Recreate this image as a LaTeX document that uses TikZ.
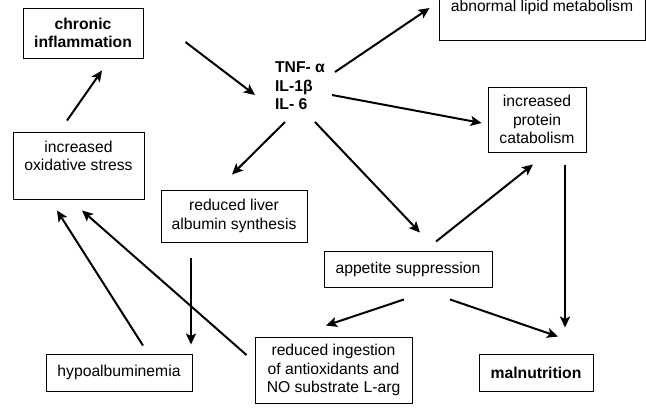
\documentclass[tikz,border=0pt]{standalone}
\usepackage{fontspec}
\setmainfont{Liberation Sans}
\usetikzlibrary{calc,positioning,arrows.meta}

\begin{document}
\begin{tikzpicture}[x=1pt,y=-1pt,
    every node/.style={font=\fontsize{15.7}{18.3}\selectfont},
    box node/.style={draw,line width=0.9pt,inner sep=0pt,align=center},
    bold node/.style={box node,font=\fontsize{15.7}{18.3}\selectfont\bfseries},
    link/.style={line width=2pt,-{Stealth[length=11pt,width=10pt,inset=2.5pt]}}]

  \useasboundingbox (0,0) rectangle (646,408);

  % boxes
  \node[bold node,minimum width=120pt,minimum height=50pt] (chronic) at (83,33) {chronic\\inflammation};
  \node[box node,minimum width=131pt,minimum height=67pt] (oxid) at (78.5,165.5) {};
  \node[inner sep=0pt,align=center,anchor=north] (oxid text) at (78.5,140.5) {increased\\oxidative stress};
  \node[inner sep=0pt,align=left,font=\fontsize{15.7}{18.5}\selectfont\bfseries] (tnf) at (300,86) {TNF- α\\IL-1β\\IL- 6};
  \node[box node,minimum width=206pt,minimum height=49pt] (lipid) at (542,15.5) {};
  \node[inner sep=0pt,anchor=north] (lipid text) at (542,-0.5) {abnormal lipid metabolism};
  \node[box node,minimum width=98pt,minimum height=65pt] (protein) at (537,119.5) {increased\\protein\\catabolism};
  \node[box node,minimum width=146pt,minimum height=52pt] (liver) at (234,216) {reduced liver\\albumin synthesis};
  \node[box node,minimum width=168pt,minimum height=36pt] (appetite) at (408,269) {appetite suppression};
  \node[box node,minimum width=146pt,minimum height=37pt] (hypo) at (119,372.5) {hypoalbuminemia};
  \node[box node,minimum width=157pt,minimum height=66pt] (ingest) at (333.5,370) {reduced ingestion\\of antioxidants and\\NO substrate L-arg};
  \node[bold node,minimum width=114pt,minimum height=37pt] (maln) at (536,372.5) {malnutrition};

  % arrows
  \draw[link] ([shift={(42,9)}]chronic.east) -- ([shift={(-45,9)}]tnf.center);
  \draw[link] ([shift={(-11.5,-11)}]oxid.north) -- ([shift={(19,12)}]chronic.south);
  \draw[link] ([shift={(35,-14)}]tnf.center) -- ([shift={(-9,-7.5)}]lipid.west);
  \draw[link] ([shift={(32,9)}]tnf.center) -- ([shift={(-6,3.5)}]protein.west);
  \draw[link] ([shift={(-15,36)}]tnf.center) -- ([shift={(-2,-15)}]liver.north);
  \draw[link] ([shift={(15,36)}]tnf.center) -- ([shift={(12,-18)}]appetite.north);
  \draw[link] ([shift={(28,-9)}]appetite.north) -- ([shift={(-4,12)}]protein.south);
  \draw[link] ([shift={(28,13)}]protein.south) -- ([shift={(29,-26)}]maln.north);
  \draw[link] ([shift={(42,12)}]appetite.south) -- ([shift={(22,-17)}]maln.north);
  \draw[link] ([shift={(-4,12)}]appetite.south) -- ([shift={(-7.5,-11)}]ingest.north);
  \draw[link] ([shift={(-43,16)}]liver.south) -- ([shift={(72,-9)}]hypo.north);
  \draw[link] ([shift={(24,-8)}]hypo.north) -- ([shift={(-21.5,11)}]oxid.south);
  \draw[link] ([shift={(-8,-15)}]ingest.west) -- ([shift={(3.5,11)}]oxid.south);

\end{tikzpicture}
\end{document}
